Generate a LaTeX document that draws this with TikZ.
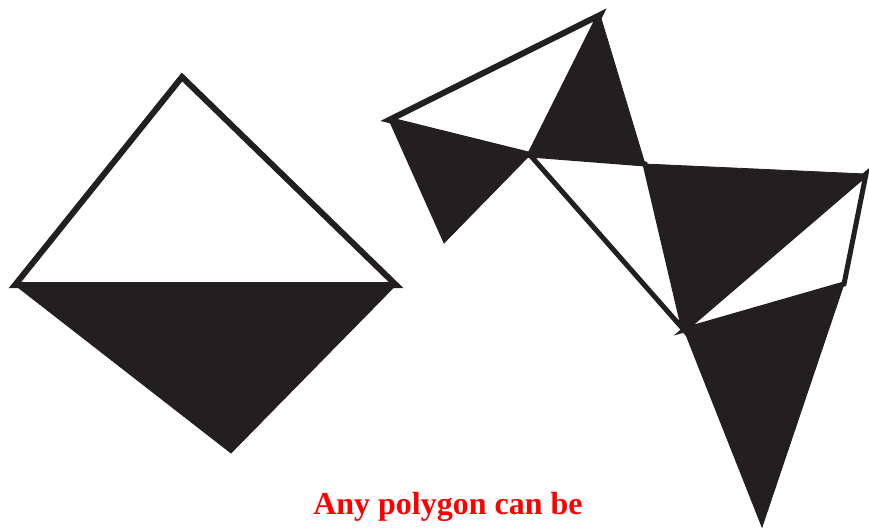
\documentclass[tikz,border=0pt]{standalone}
\usepackage{fontspec}
\setmainfont{Liberation Serif}
\definecolor{ink}{RGB}{35,31,32}
\definecolor{capred}{RGB}{255,0,0}
\begin{document}
\begin{tikzpicture}[x=1pt,y=-1pt,
  blackpart/.style={fill=ink,draw=ink,line width=0.8pt,line join=miter},
  whitepart/.style={fill=white,draw=ink,line width=6pt,line join=miter,miter limit=6},
  caption/.style={text=capred,font=\fontsize{32}{38}\selectfont\bfseries,anchor=base,inner sep=0pt}]
\useasboundingbox (0,0) rectangle (869,529);
% left polygon
\coordinate (LT) at (182,77);
\coordinate (LL) at (15,285);
\coordinate (LR) at (396,285);
\coordinate (LB) at (231,453);
\fill[blackpart] (LL) -- (LR) -- (LB) -- cycle;
\draw[whitepart] (LT) -- (LL) -- (LR) -- cycle;
% right polygon
\coordinate (A) at (389,120);
\coordinate (B) at (600,15);
\coordinate (C) at (530,155);
\coordinate (D) at (444,243);
\coordinate (E) at (645,164);
\coordinate (F) at (866,174);
\coordinate (G) at (844,284);
\coordinate (H) at (762,527);
\coordinate (I) at (684,330);
\fill[blackpart] (A) -- (C) -- (D) -- cycle;
\fill[blackpart] (B) -- (E) -- (C) -- cycle;
\fill[blackpart] (E) -- (F) -- (I) -- cycle;
\fill[blackpart] (I) -- (G) -- (H) -- cycle;
\draw[whitepart] (A) -- (B) -- (C) -- cycle;
\draw[whitepart,line width=5pt] (C) -- (E) -- (I) -- cycle;
\draw[whitepart,line width=5pt] (F) -- (G) -- (I) -- cycle;
\node[caption] (cap) at (448,514) {Any polygon can be};
\end{tikzpicture}
\end{document}
